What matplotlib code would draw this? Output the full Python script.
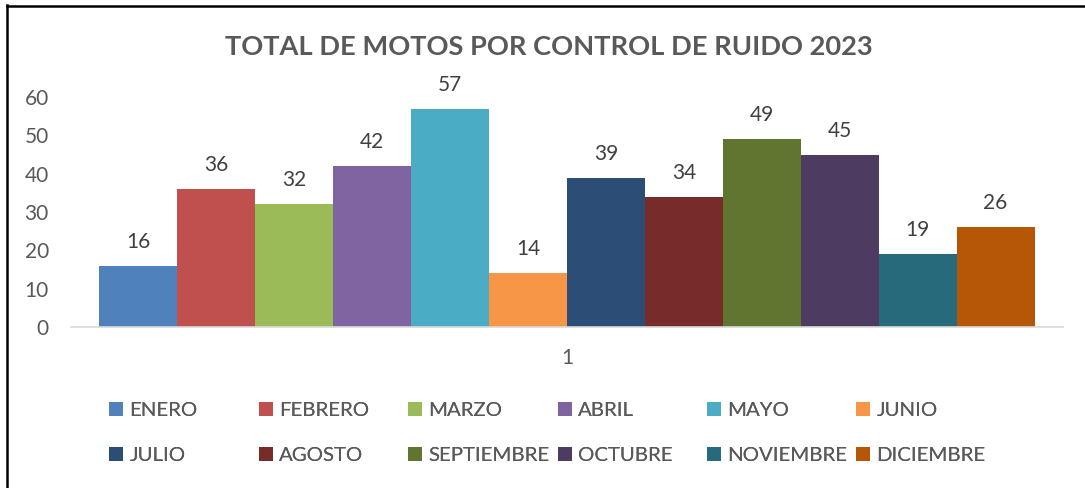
import matplotlib
matplotlib.use("Agg")
import matplotlib.pyplot as plt
from matplotlib.lines import Line2D
from matplotlib.patches import Patch

months = ["ENERO", "FEBRERO", "MARZO", "ABRIL", "MAYO", "JUNIO",
          "JULIO", "AGOSTO", "SEPTIEMBRE", "OCTUBRE", "NOVIEMBRE", "DICIEMBRE"]
values = [16, 36, 32, 42, 57, 14, 39, 34, 49, 45, 19, 26]
colors = ["#4F81BD", "#C0504D", "#9BBB59", "#8064A2", "#4BACC6", "#F79646",
          "#2C4D75", "#772C2A", "#5F7530", "#4D3B62", "#276A7C", "#B65708"]
category_label = "1"
yticks = [0, 10, 20, 30, 40, 50, 60]
title = "TOTAL DE MOTOS POR CONTROL DE RUIDO 2023"

plt.rcParams['font.family'] = ['Lato', 'DejaVu Sans']
gray = "#595959"

fig = plt.figure(figsize=(10.85, 4.88), dpi=100)
ax = fig.add_axes([71/1085, 1-327/488, (1063-71)/1085, (327-97)/488])

n = len(values)
xs = list(range(n))
bars = ax.bar(xs, values, width=1.0, color=colors, align="edge")
pad = 28.5/78.0
ax.set_xlim(-pad, n + pad)
ax.set_ylim(0, 60)
ax.set_yticks(yticks)
ax.set_xticks([n/2])
ax.set_xticklabels([category_label])

for x, v in zip(xs, values):
    ax.annotate(str(v), (x + 0.5, v), xytext=(0, 10), textcoords="offset points",
                ha="center", va="bottom", fontsize=15, color="#404040")

for s in ["top", "right", "left"]:
    ax.spines[s].set_visible(False)
ax.spines["bottom"].set_color("#D9D9D9")
ax.spines["bottom"].set_linewidth(1.2)
ax.tick_params(axis="y", length=0, labelsize=15, labelcolor=gray, pad=16)
ax.tick_params(axis="x", length=0, labelsize=15, labelcolor=gray, pad=15)

fig.text(549/1085, 1-47/488, title, ha="center", va="center",
         fontsize=19.6, fontweight="bold", color=gray)

# legend: 6 columns, 2 rows, equal column spacing
col_x = [109, 259, 408, 558, 707, 856]
ncol = 6
for c in range(ncol):
    idx = [c, c + ncol]
    handles = [Patch(facecolor=colors[i], edgecolor="none") for i in idx]
    labels = [months[i] for i in idx]
    leg = fig.legend(handles, labels, loc="upper left",
                     bbox_to_anchor=(col_x[c]/1085, 1-402/488),
                     frameon=False, fontsize=14.7, labelcolor=gray,
                     handlelength=0.7, handleheight=0.7, handletextpad=0.3,
                     labelspacing=1.35, borderpad=0, borderaxespad=0)
    fig.add_artist(leg)

# chart border (left and top)
fig.add_artist(Line2D([7/1085, 7/1085], [0, 1-5/488], color="black", lw=1.8,
                      transform=fig.transFigure))
fig.add_artist(Line2D([7/1085, 1], [1-5.5/488, 1-5.5/488], color="black", lw=1.8,
                      transform=fig.transFigure))

fig.savefig("out.png", dpi=100)
